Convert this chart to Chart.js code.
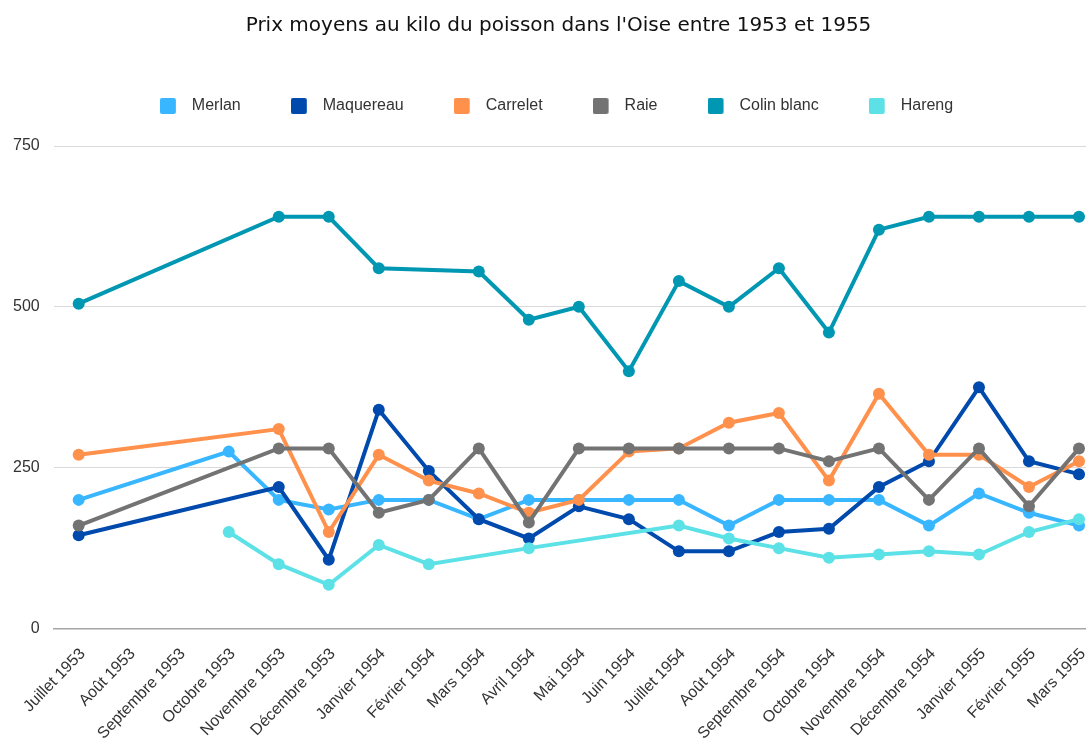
<!DOCTYPE html>
<html>
<head>
<meta charset="utf-8">
<script src="https://cdn.jsdelivr.net/npm/chart.js@4.4.1/dist/chart.umd.min.js"></script>
<style>
  html, body { margin: 0; padding: 0; overflow: hidden; background: #fff; }
  #wrap { position: absolute; left: 0; top: 0; width: 1116px; height: 770px; }
</style>
</head>
<body>
<div id="wrap"><canvas id="chart" width="1116" height="770"></canvas></div>
<script>
// --- data ---
const months = ['Juillet 1953', 'Août 1953', 'Septembre 1953', 'Octobre 1953', 'Novembre 1953', 'Décembre 1953',
    'Janvier 1954', 'Février 1954', 'Mars 1954', 'Avril 1954', 'Mai 1954', 'Juin 1954', 'Juillet 1954',
    'Août 1954', 'Septembre 1954', 'Octobre 1954', 'Novembre 1954', 'Décembre 1954', 'Janvier 1955',
    'Février 1955', 'Mars 1955'];

const merlan    = [200, null, null, 275, 200, 185, 200, 200, 170, 200, 200, 200, 200, 160, 200, 200, 200, 160, 210, 180, 160];
const maquereau = [145, null, null, null, 220, 107, 340, 245, 170, 140, 190, 170, 120, 120, 150, 155, 220, 260, 375, 260, 240];
const carrelet  = [270, null, null, null, 310, 150, 270, 230, 210, 180, 200, 275, 280, 320, 335, 230, 365, 270, 270, 220, 260];
const raie      = [160, null, null, null, 280, 280, 180, 200, 280, 165, 280, 280, 280, 280, 280, 260, 280, 200, 280, 190, 280];
const colin     = [505, null, null, null, 640, 640, 560, null, 555, 480, 500, 400, 540, 500, 560, 460, 620, 640, 640, 640, 640];
const hareng    = [null, null, null, 150, 100, 68, 130, 100, null, 125, null, null, 160, 140, 125, 110, 115, 120, 115, 150, 170];

const yTicks = [0, 250, 500, 750];

const seriesNames = ['Merlan', 'Maquereau', 'Carrelet', 'Raie', 'Colin blanc', 'Hareng'];
const seriesData = [merlan, maquereau, carrelet, raie, colin, hareng];
const colors = ['#38b6ff', '#004aad', '#ff914d', '#737373', '#0097b2', '#5ce1e6'];

// small square swatches for the legend (square on the left, rest transparent)
function swatch(color) {
    const c = document.createElement('canvas');
    c.width = 24; c.height = 16;
    const g = c.getContext('2d');
    g.fillStyle = color;
    g.beginPath();
    g.roundRect(0, 0, 16, 16, 2);
    g.fill();
    return c;
}

const datasets = seriesNames.map((name, i) => ({
    label: name,
    data: seriesData[i],
    borderColor: colors[i],
    backgroundColor: colors[i],
    borderWidth: 4,
    pointRadius: 6,
    pointHoverRadius: 6,
    pointBorderWidth: 0,
    tension: 0,
    spanGaps: true,
    order: seriesNames.length - i   // later series drawn on top
}));

// extra room between legend and plot, and nudge title/legend to the page centre
const legendGap = {
    id: 'legendGap',
    beforeInit(chart) {
        const fit = chart.legend.fit;
        chart.legend.fit = function () {
            fit.bind(chart.legend)();
            this.height += 22;
        };
    },
    afterLayout(chart) {
        chart.legend.left += 5; chart.legend.right += 5;
        if (chart.titleBlock) { chart.titleBlock.left += 7; chart.titleBlock.right += 7; }
    }
};

new Chart(document.getElementById('chart'), {
    type: 'line',
    data: { labels: months, datasets: datasets },
    plugins: [legendGap],
    options: {
        responsive: false,
        animation: false,
        layout: { padding: { left: -1, right: 12, top: 0, bottom: 19 } },
        plugins: {
            title: {
                display: true,
                text: "Prix moyens au kilo du poisson dans l'Oise entre 1953 et 1955",
                color: '#111',
                font: { family: 'DejaVu Sans', size: 20, weight: 'normal' },
                padding: { top: 14, bottom: 10 }
            },
            legend: {
                labels: {
                    usePointStyle: true,
                    pointStyleWidth: 24,
                    color: '#333',
                    font: { family: 'Liberation Sans', size: 16 },
                    padding: 50,
                    sort: (a, b) => a.datasetIndex - b.datasetIndex,
                    generateLabels: (chart) => {
                        const items = Chart.defaults.plugins.legend.labels.generateLabels(chart);
                        items.forEach(it => { it.pointStyle = swatch(colors[it.datasetIndex]); });
                        return items;
                    }
                }
            },
            tooltip: { enabled: false }
        },
        scales: {
            x: {
                offset: true,
                grid: { display: false },
                border: { display: true, color: '#a6a6a6', width: 1.5 },
                afterFit: (scale) => { scale.paddingLeft = 0; scale.paddingRight = 0; },
                ticks: {
                    autoSkip: false,
                    maxRotation: 46,
                    minRotation: 46,
                    padding: 8,
                    labelOffset: 4,
                    color: '#333',
                    font: { family: 'Liberation Sans', size: 16 }
                }
            },
            y: {
                min: 0,
                max: 750,
                afterBuildTicks: (axis) => { axis.ticks = yTicks.map(v => ({ value: v })); },
                grid: { color: '#d9d9d9', lineWidth: 1, drawTicks: false },
                border: { display: false },
                ticks: {
                    padding: 14,
                    color: '#333',
                    font: { family: 'Liberation Sans', size: 16 }
                }
            }
        }
    }
});
</script>
</body>
</html>
